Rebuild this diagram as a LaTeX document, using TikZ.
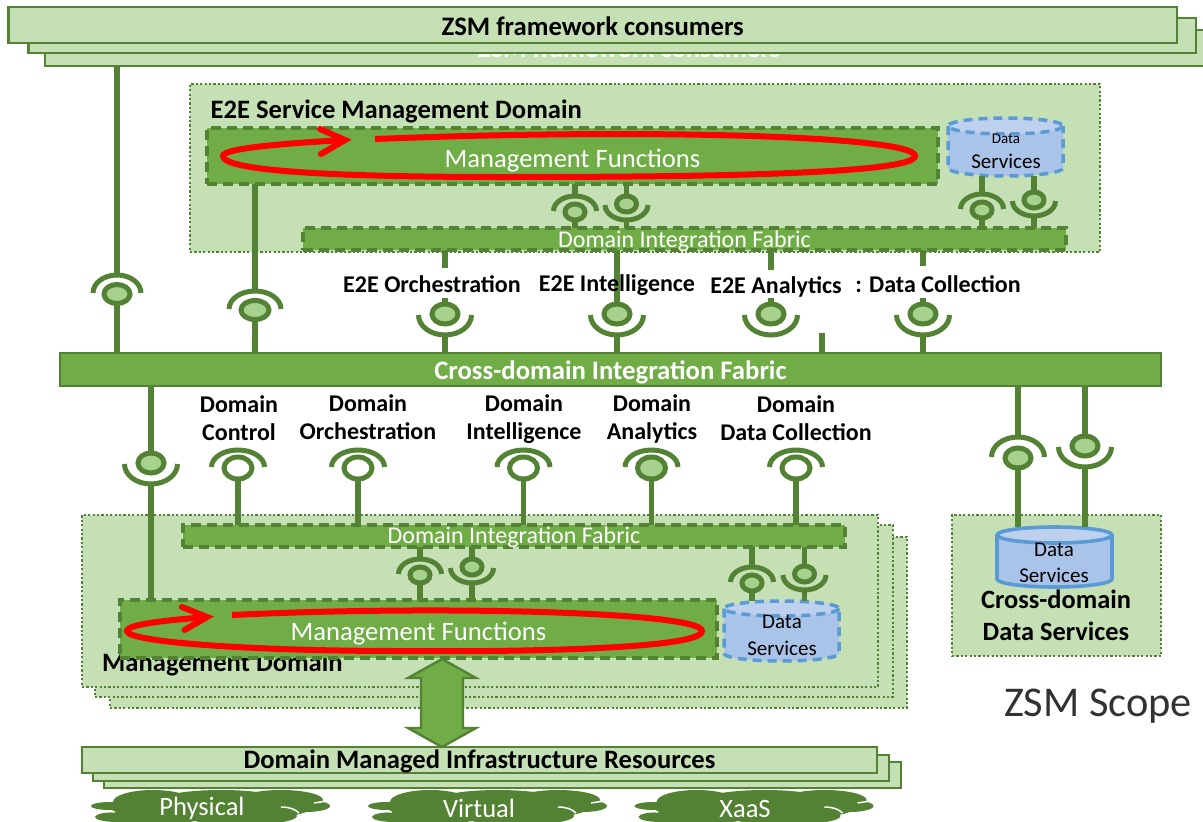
\documentclass[tikz,border=0pt]{standalone}
\usepackage{fontspec}
\setmainfont{Carlito}
\usetikzlibrary{shapes.geometric}
\definecolor{lg}{HTML}{C5E0B4}
\definecolor{mg}{HTML}{70AD47}
\definecolor{dg}{HTML}{548235}
\definecolor{bf}{HTML}{A9D18E}
\definecolor{cb}{HTML}{A9C4E8}
\definecolor{ct}{HTML}{BDD0EE}
\definecolor{bb}{HTML}{5B9BD5}
\newcommand\fsz[2]{\fontsize{#1}{#2}\selectfont}
\newcommand\dn[2]{\raisebox{-#1pt}[\height][\depth]{#2}}
\tikzset{
 stackbox/.style={rectangle,draw=dg,fill=lg,line width=2.6pt,inner sep=0pt,outer sep=0pt},
 domainbox/.style={rectangle,draw=dg,fill=lg,line width=2.4pt,dash pattern=on 2.2pt off 2.2pt,inner sep=0pt,outer sep=0pt},
 fabricbox/.style={rectangle,draw=dg,fill=mg,line width=3.5pt,dash pattern=on 10pt off 6pt,inner sep=0pt,outer sep=0pt,text=white},
 crossbox/.style={rectangle,draw=dg,fill=mg,line width=2.6pt,inner sep=0pt,outer sep=0pt,text=white},
 stem/.style={draw=dg,line width=5.5pt},
 ballnode/.style={ellipse,draw=dg,line width=5pt,inner sep=0pt,outer sep=0pt},
 sockarc/.style={draw=dg,line width=5pt},
 redloop/.style={draw=red,line width=6pt},
 lab/.style={inner sep=0pt,font=\bfseries\fsz{24}{28},align=center},
 wtxt/.style={inner sep=0pt,text=white},
 cloudfill/.style={fill=dg,draw=none},
}
% box from corners
\newcommand\boxn[7]{\node[#6,minimum width={#4-#2},minimum height={#5-#3}] (#1) at ({(#2+#4)/2},{(#3+#5)/2}) {#7};}
% name x y halfwidth archeight ballfill ballrx ballry
\newcommand\domeS[8]{%
 \node[ballnode,fill=#6,minimum width={2*#7},minimum height={2*#8}] (#1) at (#2,#3) {};
 \draw[sockarc] ({#2-#4},{#3-1}) arc[start angle=180,end angle=360,x radius=#4,y radius=#5];
 \coordinate (#1-a) at (#2,{#3-1-#5});
}
\newcommand\cupS[8]{%
 \node[ballnode,fill=#6,minimum width={2*#7},minimum height={2*#8}] (#1) at (#2,#3) {};
 \draw[sockarc] ({#2-#4},{#3+1}) arc[start angle=180,end angle=0,x radius=#4,y radius=#5];
 \coordinate (#1-a) at (#2,{#3+1+#5});
}
% name left top right bottom ry style
\newcommand\cyl[7]{%
 \coordinate (#1) at ({(#2+#4)/2},{(#3+#5)/2});
 \coordinate (#1-t) at ({(#2+#4)/2},#3);
 \coordinate (#1-b) at ({(#2+#4)/2},#5);
 \path[fill=cb] (#2,{#3+#6}) -- (#2,{#5-#6}) arc[start angle=180,end angle=0,x radius={(#4-#2)/2},y radius=#6] -- (#4,{#3+#6}) -- cycle;
 \path[fill=ct] ({(#2+#4)/2},{#3+#6}) ellipse[x radius={(#4-#2)/2},y radius=#6];
 \draw[#7] (#2,{#3+#6}) -- (#2,{#5-#6}) arc[start angle=180,end angle=0,x radius={(#4-#2)/2},y radius=#6] -- (#4,{#3+#6});
 \draw[#7] ({(#2+#4)/2},{#3+#6}) ellipse[x radius={(#4-#2)/2},y radius=#6];
}
\newcommand\cloudS[1]{%
 \begin{scope}[shift={(#1,0)}]
 \path[cloudfill] (19,806) ellipse[x radius=19,y radius=4];
 \path[cloudfill] (26,817) ellipse[x radius=22,y radius=5];
 \path[cloudfill] (62,802) ellipse[x radius=40,y radius=12];
 \path[cloudfill] (130,800) ellipse[x radius=60,y radius=10];
 \path[cloudfill] (190,800) ellipse[x radius=42,y radius=10];
 \path[cloudfill] (120,808) ellipse[x radius=100,y radius=13];
 \path[cloudfill] (65,816) ellipse[x radius=50,y radius=8];
 \path[cloudfill] (150,816) ellipse[x radius=56,y radius=9];
 \path[cloudfill] (215,806) ellipse[x radius=24,y radius=6];
 \draw[white,line width=1.5pt] (190,807) .. controls (198,807) and (204,809) .. (208,813);
 \draw[white,line width=1.5pt] (223,803) -- (236,801);
 \draw[white,line width=1.3pt] (2,811) -- (24,812);
 \end{scope}
}
\begin{document}
\begin{tikzpicture}[x=1pt,y=-1pt]
\path[use as bounding box,clip] (0,0) rectangle (1203,822);
\fill[white] (0,0) rectangle (1203,822);

% top stack
\boxn{cons3}{45}{30}{1215}{66}{stackbox}{}
\node[wtxt,font=\bfseries\fsz{26.7}{27}] (cons3t) at (629,48) {ZSM framework consumers};
\boxn{cons2}{28.7}{18}{1196}{53}{stackbox}{}
\boxn{cons1}{8.4}{7}{1177}{43}{stackbox}{\dn{1}{\bfseries\fsz{26.7}{27}ZSM framework consumers}}

% cross-domain fabric
\boxn{cross}{60}{353}{1161}{386}{crossbox}{\dn{2.5}{\bfseries\fsz{26.7}{27}Cross-domain Integration Fabric}}

% E2E domain
\boxn{e2e}{190}{84}{1100}{252}{domainbox}{}
\node[inner sep=0pt,anchor=west,font=\bfseries\fsz{26.6}{27}] (e2et) at (210.5,111) {E2E Service Management Domain};
\boxn{mf1}{207}{128}{938}{184}{fabricbox}{\dn{5}{\fsz{26.6}{27}Management Functions}}
\boxn{dif1}{303}{228}{1066}{250}{fabricbox}{\dn{2}{\fsz{24}{24}Domain Integration Fabric}}
\draw[redloop] (375,139) .. controls (650,128) and (915,136) .. (915,156) .. controls (915,176) and (650,177) .. (500,177) .. controls (350,177) and (223,172) .. (223,156) .. controls (223,148) and (290,143) .. (345,140);
\draw[redloop,line cap=round] (320,129) -- (345,140) -- (321,154);
\cyl{ds1}{948}{118}{1063}{176}{8}{draw=bb,line width=3.5pt,dash pattern=on 9pt off 6pt}
\node[inner sep=0pt,font=\fsz{15}{15}] (ds1a) at (1006,139) {Data};
\node[inner sep=0pt,font=\fsz{21}{21}] (ds1b) at (1006,161.5) {Services};

% E2E inner sockets
\domeS{s1}{575}{212}{21.5}{15}{bf}{10}{8}
\cupS{s2}{626.5}{204}{21.5}{15}{bf}{10}{8}
\domeS{s3}{982}{210}{21.5}{15}{bf}{10}{8}
\cupS{s4}{1034}{200}{21.5}{15}{bf}{10}{8}
\draw[stem] (s1-a) -- (s1-a |- mf1.south);
\draw[stem] (s1.south) -- (s1 |- dif1.north);
\draw[stem] (s2.north) -- (s2 |- mf1.south);
\draw[stem] (s2-a) -- (s2 |- dif1.north);
\draw[stem] (s3-a) -- (s3 |- ds1-b);
\draw[stem] (s3.south) -- (s3 |- dif1.north);
\draw[stem] (s4.north) -- (s4 |- ds1-b);
\draw[stem] (s4-a) -- (s4 |- dif1.north);

% consumer sockets
\domeS{c1}{117}{294}{24}{18}{bf}{13}{9.5}
\domeS{c2}{255}{310}{26}{18}{bf}{14}{9.5}
\draw[stem] (c1-a) -- (c1-a |- cons3.south);
\draw[stem] (c1.south) -- (c1 |- cross.north);
\draw[stem] (c2-a) -- (c2-a |- mf1.south);
\draw[stem] (c2.south) -- (c2 |- cross.north);

% E2E service sockets
\cupS{e1}{445}{314}{26.5}{20}{bf}{13}{10}
\cupS{e2}{617}{314}{26.5}{20}{bf}{13}{10}
\cupS{e3}{771}{314}{26.5}{20}{bf}{13}{10}
\cupS{e4}{923}{314}{26.5}{20}{bf}{13}{10}
\coordinate (e1s) at (445,268);
\coordinate (e3s) at (771,270);
\coordinate (e4s) at (923,266);
\coordinate (e1u) at (445,298);
\coordinate (e2u) at (617,298);
\coordinate (e3u) at (771,298);
\coordinate (e4u) at (923,298);
\coordinate (stub) at (822,333);
\draw[stem] (e1s) -- (e1s |- dif1.south);
\draw[stem] (e3s) -- (e3s |- dif1.south);
\draw[stem] (e4s) -- (e4s |- dif1.south);
\draw[stem] (e1.north) -- (e1u);
\draw[stem] (e3.north) -- (e3u);
\draw[stem] (e4.north) -- (e4u);
\draw[stem] (e2.north) -- (e2 |- dif1.south);
\draw[stem] (e1-a) -- (e1 |- cross.north);
\draw[stem] (e2-a) -- (e2 |- cross.north);
\draw[stem] (e4-a) -- (e4 |- cross.north);
\draw[stem] (stub) -- (stub |- cross.north);
\node[lab] (e1t) at (432,284) {E2E Orchestration};
\node[lab] (e2t) at (617,285.5) {E2E Intelligence};
\node[lab] (e3t) at (776,287) {E2E Analytics};
\node[lab] (e4t) at (938,284) {: Data Collection};

% lower domain stack
\boxn{d3}{110}{537}{907}{708}{domainbox}{}
\boxn{d2}{95}{525}{893}{697}{domainbox}{}
\boxn{d1}{82}{515}{878}{687}{domainbox}{}
\node[inner sep=0pt,anchor=west,font=\bfseries\fsz{26.6}{27}] (d1t) at (102,664) {Management Domain};
\boxn{dif2}{183}{525}{845}{547}{fabricbox}{\dn{1}{\fsz{24}{24}Domain Integration Fabric}}
\boxn{mf2}{120}{600}{717}{658}{fabricbox}{\dn{4.5}{\fsz{26.6}{27}Management Functions}}
\draw[redloop] (232,615) .. controls (440,605) and (702,612) .. (702,631) .. controls (702,650) and (500,652) .. (400,651) .. controls (250,651) and (127,642) .. (127,631) .. controls (127,624) and (170,620) .. (207,617);
\draw[redloop,line cap=round] (182,607) -- (207,617) -- (184.5,630);
\cyl{ds2}{724}{601}{839}{661}{7.5}{draw=bb,line width=3.5pt,dash pattern=on 9pt off 6pt}
\node[inner sep=0pt,font=\fsz{21}{21}] (ds2a) at (782,622) {Data};
\node[inner sep=0pt,font=\fsz{21}{21}] (ds2b) at (782,648.5) {Services};

% lower inner sockets
\domeS{m1}{420}{575}{21.5}{15}{bf}{10}{8}
\cupS{m2}{472}{567}{21.5}{15}{bf}{10}{8}
\domeS{m3}{752}{583}{21.5}{15}{bf}{10}{8}
\cupS{m4}{804.5}{574}{21.5}{15}{bf}{10}{8}
\draw[stem] (m1-a) -- (m1 |- dif2.south);
\draw[stem] (m1.south) -- (m1 |- mf2.north);
\draw[stem] (m2.north) -- (m2 |- dif2.south);
\draw[stem] (m2-a) -- (m2 |- mf2.north);
\draw[stem] (m3-a) -- (m3 |- dif2.south);
\draw[stem] (m3.south) -- (m3 |- ds2-t);
\draw[stem] (m4.north) -- (m4 |- dif2.south);
\draw[stem] (m4-a) -- (m4 |- ds2-t);

% fabric to management functions
\cupS{f1}{151}{463}{26.5}{20}{bf}{13}{10}
\draw[stem] (f1.north) -- (f1 |- cross.south);
\draw[stem] (f1-a) -- (f1 |- mf2.north);

% domain service sockets
\domeS{g1}{238}{468}{26.5}{17}{white}{14}{11}
\domeS{g2}{358}{468}{26.5}{17}{white}{14}{11}
\domeS{g3}{523.5}{468}{26.5}{17}{white}{14}{11}
\domeS{g4}{651.5}{468}{26.5}{17}{bf}{14}{11}
\domeS{g5}{796}{468}{26.5}{17}{white}{14}{11}
\foreach \g in {g1,g2,g3,g4,g5}{\draw[stem] (\g.south) -- (\g |- dif2.north);}
\node[lab] (g1t) at (239,418) {Domain\\Control};
\node[lab] (g2t) at (368,417) {Domain\\Orchestration};
\node[lab] (g3t) at (524,419.5) {Domain\\Intelligence};
\node[lab] (g4t) at (652,419) {Domain\\Analytics};
\node[lab] (g5t) at (796,418) {Domain\\Data Collection};

% cross-domain data services
\boxn{cds}{952}{515}{1161}{656}{domainbox}{}
\cyl{ds3}{997}{527}{1112}{587}{8}{draw=bb,line width=3.6pt}
\node[inner sep=0pt,font=\fsz{21}{21}] (ds3a) at (1054,550) {Data};
\node[inner sep=0pt,font=\fsz{21}{21}] (ds3b) at (1054,575.5) {Services};
\node[lab,font=\bfseries\fsz{26.4}{32}] (cdst) at (1056,615) {Cross-domain\\Data Services};
\domeS{x1}{1018}{458}{26.5}{20}{bf}{13}{10}
\cupS{x2}{1085}{446}{26.5}{20}{bf}{13}{10}
\draw[stem] (x1-a) -- (x1 |- cross.south);
\draw[stem] (x1.south) -- (x1 |- ds3-t);
\draw[stem] (x2.north) -- (x2 |- cross.south);
\draw[stem] (x2-a) -- (x2 |- ds3-t);

% infrastructure
\boxn{inf3}{104}{762}{901}{788}{stackbox}{}
\boxn{inf2}{93}{755}{889}{781}{stackbox}{}
\boxn{inf1}{82}{747}{877}{773}{stackbox}{\dn{1.5}{\bfseries\fsz{26.6}{27}Domain Managed Infrastructure Resources}}
\coordinate (arT) at (442,659);
\coordinate (arB) at (442,747);
\filldraw[fill=mg,draw=dg,line width=2.4pt] (arT) -- (476,678) -- (463,678) -- (463,728) -- (476,728) -- (arB) -- (408,728) -- (421,728) -- (421,678) -- (408,678) -- cycle;

% clouds
\cloudS{91}
\cloudS{368}
\cloudS{634.5}
\node[wtxt,font=\fsz{26.5}{27}] (p1) at (202,808.5) {Physical};
\node[wtxt,font=\fsz{26.5}{27}] (p2) at (479,808.5) {Virtual};
\node[wtxt,font=\fsz{26.5}{27}] (p3) at (745,808.5) {XaaS};

\node[inner sep=0pt,text={rgb,255:red,50;green,50;blue,50},font=\fsz{42.4}{43}] (scope) at (1098,706) {ZSM Scope};
\end{tikzpicture}
\end{document}
